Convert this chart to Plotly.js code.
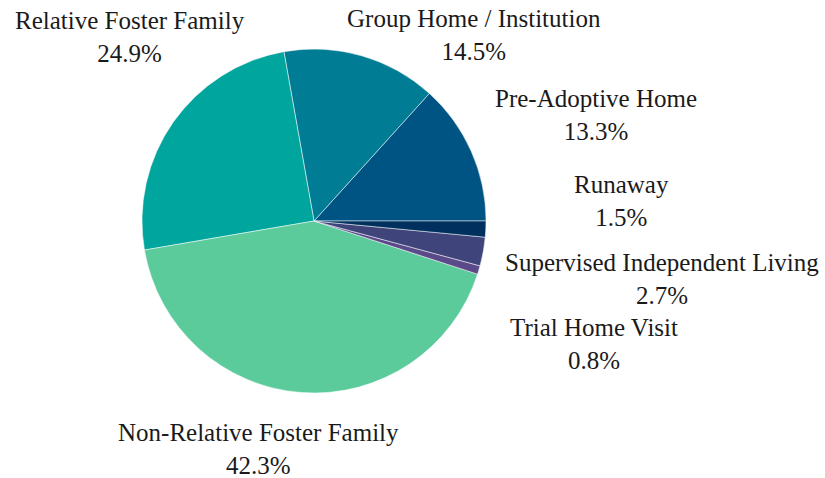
<!DOCTYPE html>
<html><head><meta charset="utf-8">
<script src="https://cdn.plot.ly/plotly-3.0.1.min.js"></script>
<style>html,body{margin:0;padding:0;background:#fff}</style>
</head><body>
<div id="chart" style="width:825px;height:478px"></div>
<script>
const labels = ["Pre-Adoptive Home","Group Home / Institution","Relative Foster Family","Non-Relative Foster Family","Trial Home Visit","Supervised Independent Living","Runaway"];
const values = [13.3, 14.5, 24.9, 42.3, 0.8, 2.7, 1.5];
const colors = ["#005483","#007c95","#00a59e","#5bcb9c","#5a4a8a","#3f447a","#00305e"];
// label placement (layout only, in pixels of the 825x478 page: centre x, centre y)
const labelPos = [[596,115],[474,35],[130,37],[258,449],[594,344],[662,279],[621,201]];

const W = 825, H = 478;
const total = values.reduce((a, b) => a + b, 0);
// first slice (counterclockwise) should begin at 3 o'clock
const rot = 90 - values[0] / total * 360;

const annotations = labels.map((lab, i) => ({
  xref: "paper", yref: "paper",
  x: labelPos[i][0] / W, y: 1 - labelPos[i][1] / H,
  xanchor: "center", yanchor: "middle",
  showarrow: false,
  align: "center",
  text: lab + "<br>" + (values[i] / total * 100).toFixed(1) + "%",
  font: {family: "Liberation Serif, serif", size: 25, color: "#1a1a1a"}
}));

Plotly.newPlot("chart", [{
  type: "pie",
  labels: labels,
  values: values,
  sort: false,
  direction: "counterclockwise",
  rotation: rot,
  textinfo: "none",
  hoverinfo: "none",
  domain: {x: [142/W, 486/W], y: [85/H, 429/H]},
  marker: {colors: colors, line: {color: "#ffffff", width: 0.5}}
}], {
  width: W, height: H,
  showlegend: false,
  margin: {l: 0, r: 0, t: 0, b: 0},
  paper_bgcolor: "#ffffff",
  annotations: annotations
}, {staticPlot: true});
</script>
</body></html>
